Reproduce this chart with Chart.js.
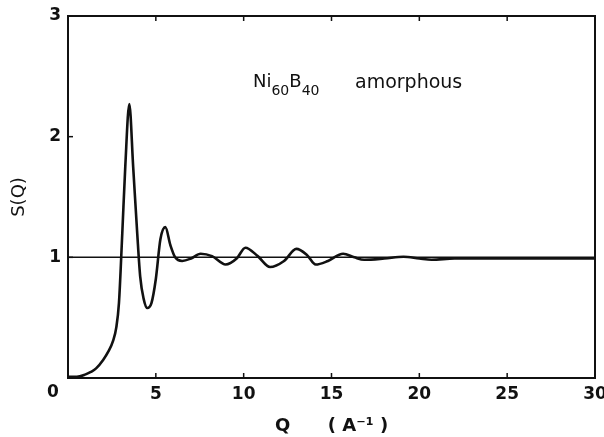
<!DOCTYPE html>
<html lang="en">
<head>
    <meta charset="UTF-8">
    <title>S(Q) Ni60B40 amorphous</title>
    <script src="https://cdn.jsdelivr.net/npm/chart.js"></script>
    <style>
        html, body { margin: 0; padding: 0; background: #fff; }
        #wrap { width: 604px; height: 437px; }
    </style>
</head>
<body>
    <div id="wrap"><canvas id="myChart" width="604" height="437"></canvas></div>

    <script>
        // values
        const qValues = [0, 0.5, 1.0, 1.3, 1.6, 2.0, 2.3, 2.57, 2.75, 2.9, 3.09, 3.26, 3.49, 3.71, 3.94, 4.11, 4.3, 4.51, 4.75, 5.0, 5.26, 5.54, 5.83, 6.1, 6.5, 7.0, 7.55, 8.2, 8.97, 9.6, 10.1, 10.8, 11.5, 12.3, 13.0, 13.6, 14.1, 14.8, 15.66, 16.3, 16.86, 18.0, 19.1, 20.0, 20.7, 22.0, 25.0, 30.0];
        const sValues = [0.01, 0.01, 0.03, 0.05, 0.08, 0.15, 0.22, 0.31, 0.42, 0.62, 1.2, 1.75, 2.27, 1.75, 1.2, 0.84, 0.66, 0.58, 0.62, 0.82, 1.15, 1.25, 1.1, 1.0, 0.97, 0.99, 1.03, 1.01, 0.94, 0.99, 1.08, 1.01, 0.92, 0.97, 1.07, 1.02, 0.94, 0.97, 1.03, 1.0, 0.98, 0.99, 1.005, 0.99, 0.98, 0.99, 0.99, 0.99];
        const refQ = [0, 30];
        const refS = [1, 1];
        const xTicks = [0, 5, 10, 15, 20, 25, 30];
        const yTicks = [0, 1, 2, 3];

        const ink = '#111';
        const tickFont = { family: 'DejaVu Sans', size: 17, weight: 'bold' };

        // box + inward ticks + label text
        const framePlugin = {
            id: 'frame',
            afterDraw(chart) {
                const ctx = chart.ctx;
                const a = chart.chartArea;
                const xs = chart.scales.x, ys = chart.scales.y;
                ctx.save();
                ctx.strokeStyle = ink;
                ctx.lineWidth = 2;
                ctx.strokeRect(a.left, a.top, a.right - a.left, a.bottom - a.top);
                ctx.lineWidth = 1.5;
                xTicks.forEach(v => {
                    const px = xs.getPixelForValue(v);
                    ctx.beginPath();
                    ctx.moveTo(px, a.bottom); ctx.lineTo(px, a.bottom - 5);
                    ctx.moveTo(px, a.top); ctx.lineTo(px, a.top + 5);
                    ctx.stroke();
                });
                yTicks.forEach(v => {
                    const py = ys.getPixelForValue(v);
                    ctx.beginPath();
                    ctx.moveTo(a.left, py); ctx.lineTo(a.left + 5, py);
                    ctx.stroke();
                });

                ctx.fillStyle = ink;

                // shared origin label, sits below-left of the corner
                ctx.font = 'bold 17px "DejaVu Sans"';
                ctx.textAlign = 'center';
                ctx.textBaseline = 'middle';
                ctx.fillText('0', xs.getPixelForValue(0) - 15, ys.getPixelForValue(0) + 15);

                // Ni60B40   amorphous
                ctx.textBaseline = 'alphabetic';
                ctx.textAlign = 'left';
                const big = '18px "DejaVu Sans"', small = '14px "DejaVu Sans"';
                let x = 253;
                const base = 87, sub = 95;
                [['Ni', big, base], ['60', small, sub], ['B', big, base], ['40', small, sub]].forEach(p => {
                    ctx.font = p[1];
                    ctx.fillText(p[0], x, p[2]);
                    x += ctx.measureText(p[0]).width;
                });
                ctx.font = '19px "DejaVu Sans"';
                ctx.fillText('amorphous', 355, 88);
                ctx.restore();
            }
        };

        const ctx = document.getElementById('myChart').getContext('2d');
        const myChart = new Chart(ctx, {
            type: 'line',
            data: {
                datasets: [{
                    label: 'S(Q)',
                    data: qValues.map((q, i) => ({ x: q, y: sValues[i] })),
                    borderColor: ink,
                    borderWidth: 2.6,
                    pointRadius: 0,
                    cubicInterpolationMode: 'monotone',
                    fill: false
                }, {
                    label: 'S = 1',
                    data: refQ.map((q, i) => ({ x: q, y: refS[i] })),
                    borderColor: ink,
                    borderWidth: 1.5,
                    pointRadius: 0,
                    fill: false
                }]
            },
            options: {
                responsive: false,
                animation: false,
                devicePixelRatio: 1,
                layout: { padding: { left: 0, top: 16, right: 9, bottom: 0 } },
                plugins: { legend: { display: false }, tooltip: { enabled: false } },
                scales: {
                    x: {
                        type: 'linear',
                        min: 0, max: 30,
                        afterBuildTicks: s => { s.ticks = xTicks.map(v => ({ value: v })); },
                        afterFit: s => { s.height = 59; s.paddingLeft = 0; s.paddingRight = 0; },
                        grid: { display: false, drawTicks: false },
                        border: { display: false },
                        ticks: { color: ink, padding: 6, maxRotation: 0, font: tickFont, callback: v => v === 0 ? '' : v },
                        title: { display: true, text: 'Q      ( A\u207B\u00B9 )', color: ink, padding: 0, font: { family: 'DejaVu Sans', size: 18, weight: 'bold' } }
                    },
                    y: {
                        min: 0, max: 3,
                        afterBuildTicks: s => { s.ticks = yTicks.map(v => ({ value: v })); },
                        afterFit: s => { s.width = 68; s.paddingTop = 0; s.paddingBottom = 0; },
                        grid: { display: false, drawTicks: false },
                        border: { display: false },
                        ticks: { color: ink, padding: 7, font: tickFont, callback: v => v === 0 ? '' : v },
                        title: { display: true, text: 'S(Q)', color: ink, padding: { top: 9 }, font: { family: 'DejaVu Sans', size: 18 } }
                    }
                }
            },
            plugins: [framePlugin]
        });
    </script>
</body>
</html>
